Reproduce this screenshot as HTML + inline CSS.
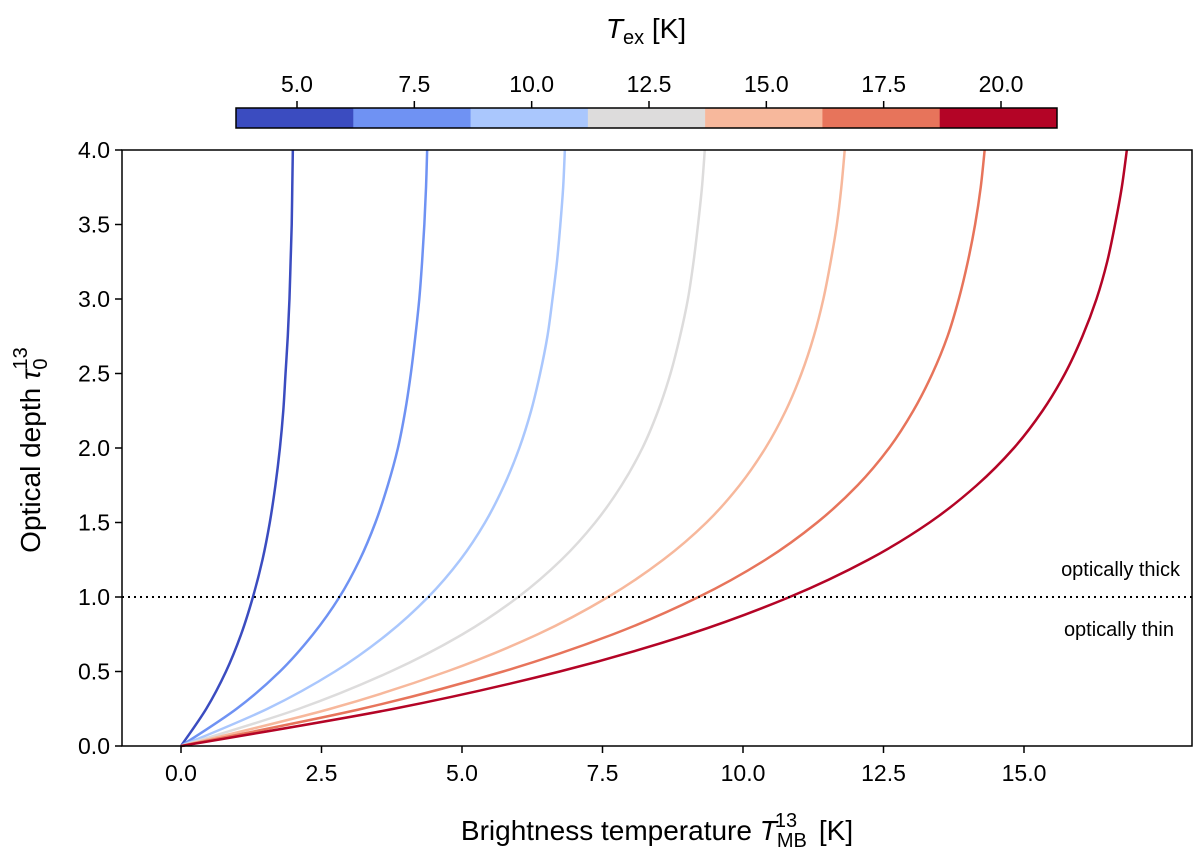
<!DOCTYPE html>
<html><head><meta charset="utf-8"><style>
body{margin:0;background:#fff;}
svg text{font-family:"Liberation Sans",sans-serif;fill:#000;}
</style></head><body>
<svg id="chart" width="1200" height="860" xmlns="http://www.w3.org/2000/svg"></svg>
<script>
const tauGrid=[0,0.25,0.5,0.75,1,1.25,1.5,1.75,2,2.25,2.5,2.75,3,3.25,3.5,3.75,4];
const texValues=[5,7.5,10,12.5,15,17.5,20];
const colors=["#3b4cc0","#6f92f3","#aac7fd","#dddcdc","#f7b89c","#e7745b","#b40426"];
const curveT5=[0,.45,.80,1.07,1.28,1.45,1.58,1.68,1.76,1.82,1.86,1.90,1.93,1.95,1.97,1.98,1.99];
const curveT7=[0,.99,1.76,2.35,2.82,3.18,3.46,3.68,3.86,3.99,4.09,4.17,4.24,4.29,4.33,4.36,4.38];
const curveT10=[0,1.54,2.74,3.67,4.40,4.97,5.41,5.75,6.02,6.23,6.39,6.52,6.61,6.69,6.75,6.80,6.83];
const curveT12=[0,2.10,3.73,5.01,6.00,6.77,7.37,7.84,8.21,8.49,8.71,8.88,9.02,9.12,9.20,9.27,9.32];
const curveT15=[0,2.66,4.73,6.35,7.60,8.58,9.35,9.94,10.40,10.76,11.04,11.26,11.43,11.56,11.67,11.75,11.81];
const curveT17=[0,3.22,5.73,7.69,9.21,10.40,11.32,12.04,12.60,13.03,13.37,13.64,13.84,14.00,14.13,14.23,14.30];
const curveT20=[0,3.79,6.74,9.04,10.83,12.23,13.32,14.16,14.82,15.33,15.73,16.04,16.29,16.48,16.62,16.74,16.83];
const xTicks=[0,2.5,5,7.5,10,12.5,15];
const yTicks=[0,0.5,1,1.5,2,2.5,3,3.5,4];
const cbTicks=[5,7.5,10,12.5,15,17.5,20];
const curves=[curveT5,curveT7,curveT10,curveT12,curveT15,curveT17,curveT20];

const NS="http://www.w3.org/2000/svg";
const svg=document.getElementById("chart");
const L=122,R=1192,T=150,B=746;
const X=v=>181+v*(1024-181)/15;
const Y=v=>B-v*(B-T)/4;
const CB=v=>297+(v-5)*(1001-297)/15;
function mk(tag,attrs,parent){const e=document.createElementNS(NS,tag);for(const k in attrs)e.setAttribute(k,attrs[k]);(parent||svg).appendChild(e);return e;}

curves.forEach((c,i)=>{
  const pts=c.map((t,j)=>[X(t),Y(tauGrid[j])]);
  let d="M"+pts[0][0]+","+pts[0][1];
  for(let j=0;j<pts.length-1;j++){
    const p0=pts[Math.max(0,j-1)],p1=pts[j],p2=pts[j+1],p3=pts[Math.min(pts.length-1,j+2)];
    const c1=[p1[0]+(p2[0]-p0[0])/6,p1[1]+(p2[1]-p0[1])/6];
    const c2=[p2[0]-(p3[0]-p1[0])/6,p2[1]-(p3[1]-p1[1])/6];
    d+=" C"+c1+" "+c2+" "+p2;
  }
  const p=mk("path",{d:d,fill:"none",stroke:colors[i],"stroke-width":2.5});
  
  
});
const dl=mk("line",{x1:L,x2:R,y1:Y(1),y2:Y(1),stroke:"#000","stroke-width":2,"stroke-dasharray":"2,4"});


const t1=mk("text",{x:1180,y:576,"font-size":20,"text-anchor":"end"});t1.textContent="optically thick";


const t2=mk("text",{x:1174,y:636,"font-size":20,"text-anchor":"end"});t2.textContent="optically thin";


const fr=mk("rect",{x:L,y:T,width:R-L,height:B-T,fill:"none",stroke:"#000","stroke-width":1.5});


xTicks.forEach(v=>{
  mk("line",{x1:X(v),x2:X(v),y1:B,y2:B+7,stroke:"#000","stroke-width":1.5});
  const t=mk("text",{x:X(v),y:B+35,"font-size":23,"text-anchor":"middle"});t.textContent=v.toFixed(1);
  
  
});
yTicks.forEach(v=>{
  mk("line",{x1:L-7,x2:L,y1:Y(v),y2:Y(v),stroke:"#000","stroke-width":1.5});
  const t=mk("text",{x:L-12,y:Y(v)+8,"font-size":23,"text-anchor":"end"});t.textContent=v.toFixed(1);
  
  
});
const xt=mk("text",{x:657,y:840,"font-size":28,"text-anchor":"middle"});
xt.innerHTML='Brightness temperature <tspan font-style="italic">T</tspan><tspan font-size="20" dy="7">MB</tspan><tspan font-size="20" dx="-32" dy="-20">13</tspan><tspan dx="14" dy="13"> [K]</tspan>';


const yt=mk("text",{x:0,y:0,"font-size":28,"text-anchor":"middle",transform:"translate(40,450) rotate(-90)"});
yt.innerHTML='Optical depth <tspan font-style="italic">τ</tspan><tspan font-size="20" dy="7">0</tspan><tspan font-size="20" dx="-11" dy="-20">13</tspan>';


const segW=(1057-236)/7;
colors.forEach((c,i)=>{
  const r=mk("rect",{x:236+i*segW,y:108,width:segW+0.5,height:20,fill:c});
  
  
});
const cbf=mk("rect",{x:236,y:108,width:1057-236,height:20,fill:"none",stroke:"#000","stroke-width":1.5});


cbTicks.forEach(v=>{
  mk("line",{x1:CB(v),x2:CB(v),y1:101,y2:108,stroke:"#000","stroke-width":1.5});
  const t=mk("text",{x:CB(v),y:92,"font-size":23,"text-anchor":"middle"});t.textContent=v.toFixed(1);
  
  
});
const ct=mk("text",{x:646,y:38,"font-size":28,"text-anchor":"middle"});
ct.innerHTML='<tspan font-style="italic">T</tspan><tspan font-size="20" dy="6">ex</tspan><tspan dy="-6"> [K]</tspan>';


</script>
</body></html>
